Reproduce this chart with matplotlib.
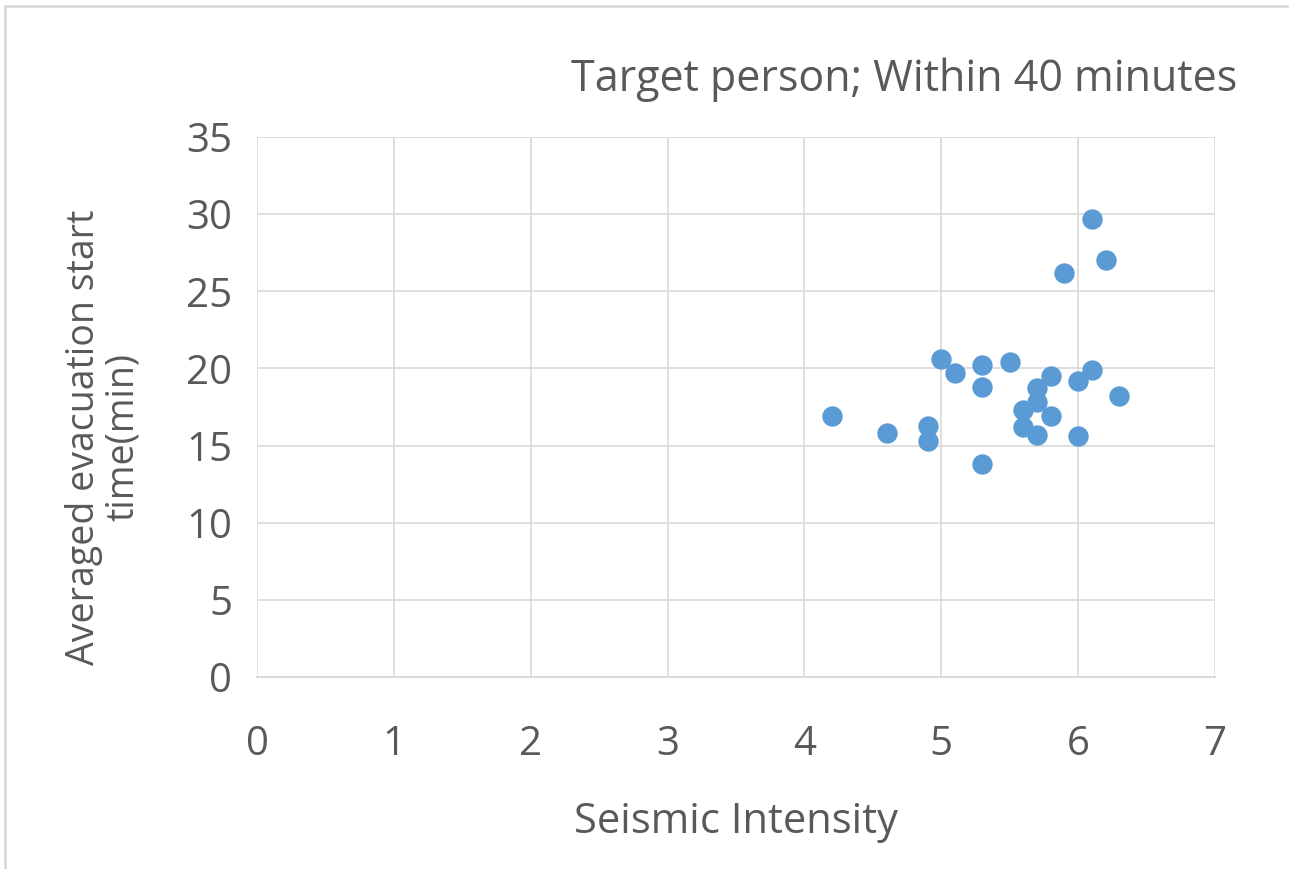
import matplotlib.pyplot as plt
from matplotlib.patches import Rectangle

# seismic intensity vs. averaged evacuation start time (min)
intensity = [6.1, 6.2, 5.9, 5.0, 5.1, 5.3, 5.3, 5.5, 5.8, 5.7, 5.7, 5.6,
             5.8, 5.6, 5.7, 6.0, 6.0, 6.1, 6.3, 4.2, 4.6, 4.9, 4.9, 5.3]
start_time = [29.7, 27.0, 26.2, 20.6, 19.7, 20.2, 18.8, 20.4, 19.5, 18.7, 17.8, 17.3,
              16.9, 16.2, 15.7, 15.6, 19.2, 19.9, 18.2, 16.9, 15.8, 16.3, 15.3, 13.8]
x_ticks = [0, 1, 2, 3, 4, 5, 6, 7]
y_ticks = [0, 5, 10, 15, 20, 25, 30, 35]

plt.rcParams["font.family"] = ["Open Sans", "DejaVu Sans"]
text_color = "#595959"
grid_color = "#d9d9d9"

fig = plt.figure(figsize=(12.89, 8.69), dpi=100)
ax = fig.add_axes([0.1994, 0.2210, 0.7432, 0.6213])

ax.scatter(intensity, start_time, s=215, color="#5b9bd5", linewidths=0, zorder=3)

ax.set_xlim(0, 7)
ax.set_ylim(0, 35)
ax.set_xticks(x_ticks)
ax.set_yticks(y_ticks)
ax.grid(True, color=grid_color, linewidth=1.2)
ax.set_axisbelow(True)
for side in ["top", "right", "left"]:
    ax.spines[side].set_visible(False)
ax.spines["bottom"].set_color(grid_color)
ax.spines["bottom"].set_linewidth(1.5)
ax.tick_params(length=0, labelsize=29, colors=text_color, pad=18)
ax.tick_params(axis="x", pad=34)

ax.set_xlabel("Seismic Intensity", fontsize=30, color=text_color, labelpad=26)
ax.set_ylabel("Averaged evacuation start\ntime(min)", fontsize=27, color=text_color,
              linespacing=1.05)
ax.yaxis.set_label_coords(-0.12, 0.444)
fig.text(0.960, 0.908, "Target person; Within 40 minutes", fontsize=31,
         color=text_color, ha="right", va="center")

# chart frame along the top and left edges
fig.add_artist(Rectangle((5 / 1289, -0.1), 1.2, 1.1 - 6 / 869,
                         transform=fig.transFigure, fill=False,
                         edgecolor=grid_color, linewidth=2))

fig.savefig("out.png", dpi=100)
